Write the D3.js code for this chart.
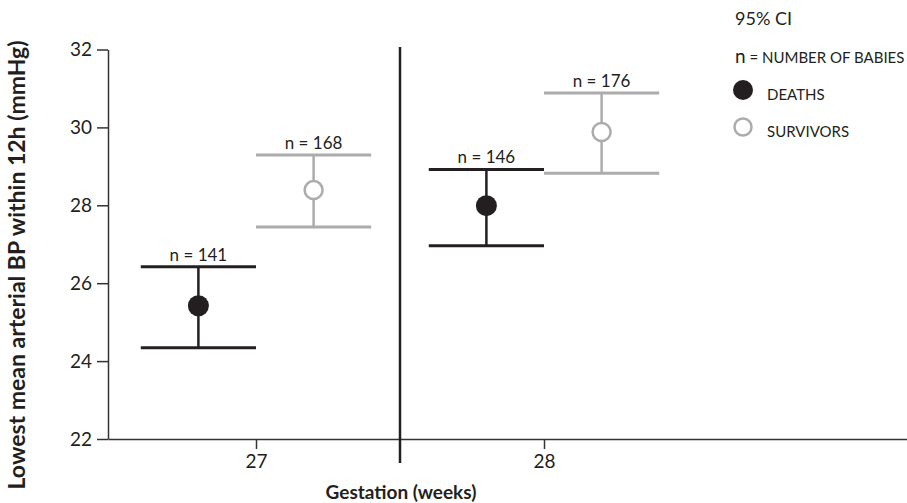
<!DOCTYPE html>
<html>
<head>
<meta charset="utf-8">
<script src="https://cdn.jsdelivr.net/npm/d3@7"></script>
<style>
  body { margin: 0; background: #fff; }
  svg { font-family: Lato, "Open Sans", sans-serif; }
</style>
</head>
<body>
<svg width="907" height="503"></svg>
<script>
// data
var weeks = [27, 28];
var deathsMean = [25.42, 27.99];
var deathsLow = [24.34, 26.96];
var deathsHigh = [26.42, 28.92];
var deathsN = [141, 146];
var survMean = [28.39, 29.88];
var survLow = [27.44, 28.82];
var survHigh = [29.29, 30.88];
var survN = [168, 176];
var yTicks = [22, 24, 26, 28, 30, 32];

var black = "#231f20", grey = "#acacac";

var svg = d3.select("svg");

// x: 27 -> 256, 28 -> 544, axis runs 108..907
var x = d3.scaleLinear().domain([27, 28]).range([256, 544]);
x.domain([x.invert(108), x.invert(907)]).range([108, 907]);
var y = d3.scaleLinear().domain([22, 32]).range([439, 49.5]);

// y axis
var yAxis = svg.append("g")
    .attr("transform", "translate(108,0)")
    .call(d3.axisLeft(y).tickValues(yTicks).tickSize(11).tickSizeOuter(0).tickPadding(5));
yAxis.selectAll("text").attr("font-size", 19).attr("fill", black).attr("font-family", "Lato");
yAxis.selectAll("line, path").attr("stroke", "#333").attr("stroke-width", 1.5);

// x axis
var xAxis = svg.append("g")
    .attr("transform", "translate(0,439)")
    .call(d3.axisBottom(x).tickValues(weeks).tickSize(10).tickSizeOuter(0).tickPadding(6).tickFormat(d3.format("d")));
xAxis.selectAll("text").attr("font-size", 19).attr("fill", black).attr("font-family", "Lato");
xAxis.selectAll("line, path").attr("stroke", "#333").attr("stroke-width", 1.5);

// divider between the weeks
svg.append("line")
    .attr("x1", x(27.5)).attr("x2", x(27.5))
    .attr("y1", 47).attr("y2", 463)
    .attr("stroke", black).attr("stroke-width", 2.5);

function drawGroup(means, lows, highs, ns, off, color, filled) {
  var g = svg.append("g");
  var rows = weeks.map(function(w, i) {
    return {w: w, m: means[i], lo: lows[i], hi: highs[i], n: ns[i]};
  });
  var cx = function(d) { return x(d.w + off); };
  var capL = function(d) { return x(d.w + off - 0.2); };
  var capR = function(d) { return x(d.w + off + 0.2); };

  g.selectAll(".stem").data(rows).enter().append("line")
      .attr("x1", cx).attr("x2", cx)
      .attr("y1", function(d) { return y(d.lo); })
      .attr("y2", function(d) { return y(d.hi); })
      .attr("stroke", color).attr("stroke-width", 2.5);

  ["lo", "hi"].forEach(function(k) {
    g.selectAll(".cap-" + k).data(rows).enter().append("line")
        .attr("x1", capL).attr("x2", capR)
        .attr("y1", function(d) { return y(d[k]); })
        .attr("y2", function(d) { return y(d[k]); })
        .attr("stroke", color).attr("stroke-width", 3);
  });

  g.selectAll("circle").data(rows).enter().append("circle")
      .attr("cx", cx)
      .attr("cy", function(d) { return y(d.m); })
      .attr("r", filled ? 10.5 : 9)
      .attr("fill", filled ? black : "#fff")
      .attr("stroke", color).attr("stroke-width", filled ? 0 : 2.5);

  g.selectAll("text").data(rows).enter().append("text")
      .attr("x", cx)
      .attr("y", function(d) { return y(d.hi) - 6; })
      .attr("text-anchor", "middle")
      .attr("font-size", 17)
      .attr("fill", black)
      .text(function(d) { return "n = " + d.n; });
}

drawGroup(deathsMean, deathsLow, deathsHigh, deathsN, -0.2, black, true);
drawGroup(survMean, survLow, survHigh, survN, 0.2, grey, false);

// axis titles
svg.append("text")
    .attr("x", 401).attr("y", 499)
    .attr("text-anchor", "middle")
    .attr("font-size", 19).attr("font-weight", "bold").attr("fill", black)
    .text("Gestation (weeks)");

svg.append("text")
    .attr("transform", "translate(25,265) rotate(-90)")
    .attr("text-anchor", "middle")
    .attr("font-size", 23).attr("font-weight", "bold").attr("fill", black)
    .text("Lowest mean arterial BP within 12h (mmHg)");

// legend
svg.append("text").attr("x", 735).attr("y", 25)
    .attr("font-size", 18).attr("fill", black).text("95% CI");

var nLine = svg.append("text").attr("x", 735).attr("y", 63).attr("fill", black);
nLine.append("tspan").attr("font-size", 19).text("n");
nLine.append("tspan").attr("font-size", 15).text(" = NUMBER OF BABIES");

svg.append("circle").attr("cx", 743).attr("cy", 90).attr("r", 10).attr("fill", black);
svg.append("text").attr("x", 767).attr("y", 100)
    .attr("font-size", 15).attr("fill", black).text("DEATHS");

svg.append("circle").attr("cx", 743).attr("cy", 127).attr("r", 8.5)
    .attr("fill", "#fff").attr("stroke", grey).attr("stroke-width", 2.5);
svg.append("text").attr("x", 767).attr("y", 137)
    .attr("font-size", 15).attr("fill", black).text("SURVIVORS");
</script>
</body>
</html>
